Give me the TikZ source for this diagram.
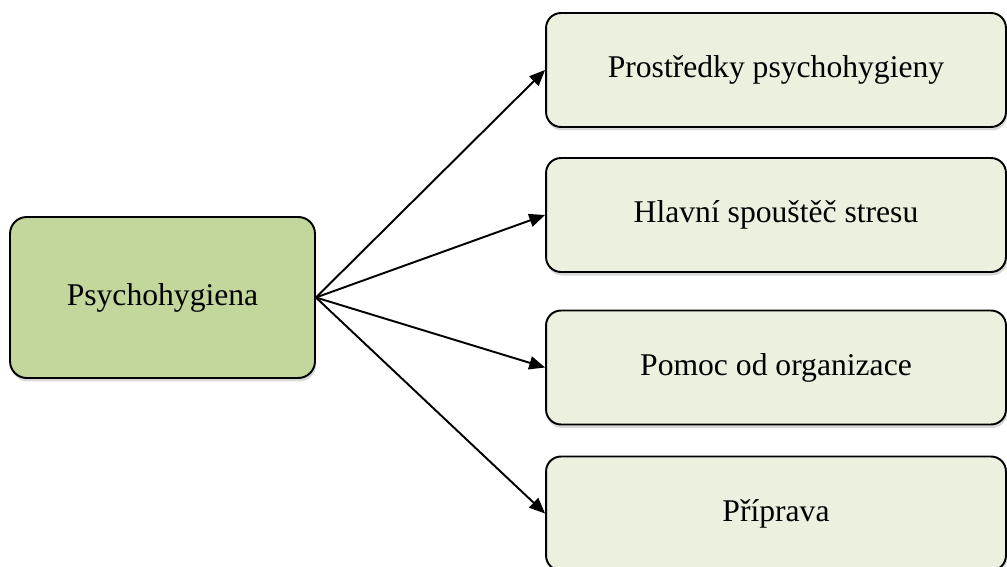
\documentclass[tikz,border=0pt]{standalone}
\usepackage{fontspec}
\setmainfont{Liberation Serif}
\usetikzlibrary{arrows.meta,shadows}
\definecolor{rootgreen}{HTML}{C3D69B}
\definecolor{leafgreen}{HTML}{EBF1DE}
\begin{document}
\begin{tikzpicture}[
    x=0.02cm, y=-0.02cm,
    font=\fontsize{18}{22}\selectfont
]
	\tikzset{
	    rootnode/.style = {rectangle, rounded corners=9.5pt, draw=black, line width=1.1pt,
	        fill=rootgreen, minimum width=6.1cm, minimum height=3.22cm, align=center,
	        drop shadow={shadow xshift=0.6pt, shadow yshift=-2pt, opacity=0.3}},
	    leafnode/.style = {rectangle, rounded corners=8.5pt, draw=black, line width=1.1pt,
	        fill=leafgreen, minimum width=9.2cm, minimum height=2.28cm, align=center,
	        drop shadow={shadow xshift=0.6pt, shadow yshift=-2pt, opacity=0.3}},
	    edgen/.style = {-{Triangle[length=9pt,width=7.5pt]}, line width=1.1pt}
	}
	\useasboundingbox (0,0) rectangle (1007,567);
	\node[rootnode] at (162.5,297.5) (root) {Psychohygiena};
	\node[leafnode] at (776,70) (p1) {Prostředky psychohygieny};
	\node[leafnode] at (776,215) (p2) {Hlavní spouštěč stresu};
	\node[leafnode] at (776,367.5) (p3) {Pomoc od organizace};
	\node[leafnode] at (776,513.5) (p4) {Příprava};
	\draw[edgen] (root.east) -- (p1.west);
	\draw[edgen] (root.east) -- (p2.west);
	\draw[edgen] (root.east) -- (p3.west);
	\draw[edgen] (root.east) -- (p4.west);
\end{tikzpicture}
\end{document}
